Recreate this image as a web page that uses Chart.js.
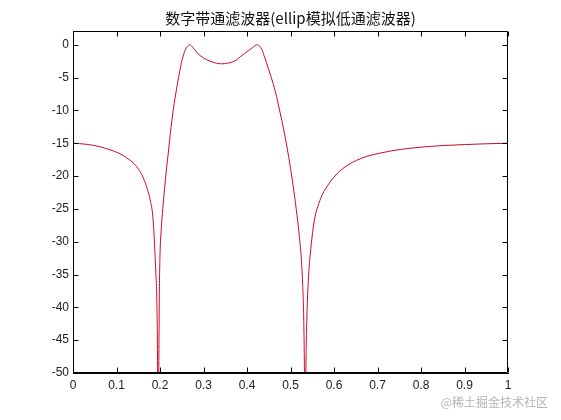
<!DOCTYPE html>
<html>
<head>
<meta charset="utf-8">
<script src="https://cdn.jsdelivr.net/npm/chart.js@4/dist/chart.umd.min.js"></script>
<style>
  html, body { margin: 0; padding: 0; background: #fff; }
  #wrap { width: 561px; height: 420px; }
</style>
</head>
<body>
<div id="wrap"><canvas id="plot" width="561" height="420"></canvas></div>
<script>
const titleText = '数字带通滤波器(ellip模拟低通滤波器)';
const watermark = '@稀土掘金技术社区';

// normalised frequency
const freq = [
  0.000, 0.030, 0.060, 0.085, 0.105, 0.123, 0.140, 0.153, 0.163, 0.171,
  0.178, 0.183, 0.1855, 0.188, 0.1905, 0.193, 0.1945, 0.1958, 0.1972, 0.1985,
  0.200, 0.2025, 0.2055, 0.209, 0.2125, 0.216, 0.219, 0.2253, 0.2325, 0.240,
  0.246, 0.252, 0.2575, 0.263, 0.269, 0.275, 0.280, 0.288, 0.300, 0.315,
  0.330, 0.342, 0.355, 0.367, 0.376, 0.385, 0.395, 0.403, 0.412, 0.419,
  0.424, 0.429, 0.434, 0.441, 0.450, 0.460, 0.468, 0.476, 0.484, 0.492,
  0.500, 0.508, 0.515, 0.520, 0.5245, 0.528, 0.5305, 0.532, 0.5337, 0.5354,
  0.5375, 0.5405, 0.544, 0.549, 0.556, 0.563, 0.572, 0.581, 0.591, 0.602,
  0.614, 0.632, 0.652, 0.675, 0.706, 0.752, 0.800, 0.850, 0.900, 0.950,
  1.000
];
// magnitude in dB
const magDb = [
  -15.0, -15.15, -15.5, -16.0, -16.5, -17.2, -18.1, -19.2, -20.5, -22.0,
  -23.8, -25.8, -28.0, -31.3, -34.8, -40.0, -50.0, -70.0, -50.0, -38.0,
  -32.0, -28.5, -25.7, -23.0, -20.5, -18.3, -16.5, -12.6, -9.0, -6.0,
  -3.8, -2.0, -0.9, -0.25, 0.0, -0.35, -0.75, -1.4, -2.0, -2.5,
  -2.8, -2.9, -2.8, -2.6, -2.3, -1.8, -1.3, -0.9, -0.45, -0.12,
  0.0, -0.2, -0.7, -2.0, -3.8, -5.9, -7.9, -10.3, -12.8, -15.6,
  -18.8, -22.4, -26.0, -29.0, -32.3, -36.5, -42.0, -50.0, -70.0, -50.0,
  -42.0, -36.5, -33.0, -29.6, -26.3, -24.6, -23.0, -21.9, -20.9, -20.0,
  -19.2, -18.3, -17.6, -17.0, -16.5, -15.95, -15.6, -15.35, -15.2, -15.08,
  -15.0
];

const xTicks = [0, 0.1, 0.2, 0.3, 0.4, 0.5, 0.6, 0.7, 0.8, 0.9, 1];
const yTicks = [0, -5, -10, -15, -20, -25, -30, -35, -40, -45, -50];

const tickFont = { family: "'Liberation Sans', Arial, sans-serif", size: 12 };

function fmtTick(v) {
  return String(Math.round(v * 10) / 10);
}

// matlab style box with inward ticks, title over the axes, watermark
const boxTicks = {
  id: 'boxTicks',
  afterDraw(chart) {
    const {ctx, chartArea: a, scales: {x, y}} = chart;
    const len = 5;
    const l = Math.round(a.left) + 0.5, r = Math.round(a.right) - 0.5;
    const t = Math.round(a.top) + 0.5, b = Math.round(a.bottom) - 0.5;
    ctx.save();
    ctx.strokeStyle = '#000';
    ctx.lineWidth = 1;
    ctx.beginPath();
    ctx.rect(l, t, r - l, b - t);
    xTicks.forEach(v => {
      const px = Math.round(x.getPixelForValue(v)) + 0.5;
      ctx.moveTo(px, b); ctx.lineTo(px, b - len);
      ctx.moveTo(px, t); ctx.lineTo(px, t + len);
    });
    yTicks.forEach(v => {
      const py = Math.round(y.getPixelForValue(v)) + 0.5;
      ctx.moveTo(l, py); ctx.lineTo(l + len, py);
      ctx.moveTo(r, py); ctx.lineTo(r - len, py);
    });
    ctx.stroke();

    ctx.fillStyle = '#111';
    ctx.font = "15px 'Noto Sans CJK SC', sans-serif";
    ctx.textAlign = 'center';
    ctx.textBaseline = 'middle';
    ctx.fillText(titleText, (a.left + a.right) / 2, 18);

    ctx.fillStyle = '#b4b4b4';
    ctx.font = "12px 'Noto Sans CJK SC', sans-serif";
    ctx.textAlign = 'right';
    ctx.fillText(watermark, 548, 402);
    ctx.restore();
  }
};

new Chart(document.getElementById('plot'), {
  type: 'line',
  data: {
    datasets: [{
      data: freq.map((f, i) => ({x: f, y: magDb[i]})),
      borderColor: 'rgb(204,8,40)',
      borderWidth: 1,
      pointRadius: 0,
      cubicInterpolationMode: 'monotone',
      fill: false,
    }]
  },
  options: {
    responsive: false,
    animation: false,
    devicePixelRatio: 1,
    layout: {
      padding: {left: 0, right: 53, top: 31, bottom: 0}
    },
    scales: {
      x: {
        type: 'linear',
        min: 0,
        max: 1,
        afterBuildTicks: scale => { scale.ticks = xTicks.map(value => ({value})); },
        afterFit: scale => { scale.height = 47; },
        grid: { display: false, drawTicks: false },
        border: { display: true, color: '#000', width: 1 },
        ticks: {
          color: '#222',
          font: tickFont,
          padding: 5,
          maxRotation: 0,
          autoSkip: false,
          callback: fmtTick
        }
      },
      y: {
        type: 'linear',
        min: -50,
        max: 2.1,
        afterBuildTicks: scale => { scale.ticks = yTicks.map(value => ({value})); },
        afterFit: scale => { scale.width = 73; },
        grid: { display: false, drawTicks: false },
        border: { display: true, color: '#000', width: 1 },
        ticks: {
          color: '#222',
          font: tickFont,
          padding: 4,
          autoSkip: false,
          callback: fmtTick
        }
      }
    },
    plugins: {
      legend: { display: false },
      tooltip: { enabled: false },
      title: { display: false }
    }
  },
  plugins: [boxTicks]
});
</script>
</body>
</html>
